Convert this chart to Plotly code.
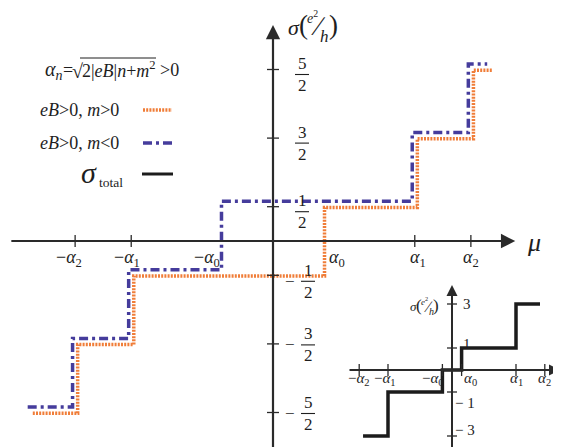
import plotly.graph_objects as go

# ---------------- data ----------------
# main panel: chemical potential thresholds alpha_0, alpha_1, alpha_2
alpha_main = [0.96, 2.78, 3.88]
mu_span = [-4.76, 4.25]                      # mu range covered by the curves
levels_half = [-2.5, -1.5, -0.5, 0.5, 1.5, 2.5]  # sigma in units of e^2/h
y_ticks_main = [2.5, 1.5, 0.5, -0.5, -1.5, -2.5]
y_tick_num = ["5", "3", "1", "1", "3", "5"]
y_tick_den = ["2", "2", "2", "2", "2", "2"]
x_tick_names = ["−<i>α</i><sub>2</sub>", "−<i>α</i><sub>1</sub>", "−<i>α</i><sub>0</sub>",
                "<i>α</i><sub>0</sub>", "<i>α</i><sub>1</sub>", "<i>α</i><sub>2</sub>"]

# inset: total conductance
alpha_inset = [0.3, 2.0, 2.9]
inset_span = [-2.78, 2.75]
levels_total = [-3, -1, 0, 1, 3]
inset_y_ticks = [3, 1, -1, -3]
inset_y_names = ["3", "1", "− 1", "− 3"]

# ---------------- geometry / style ----------------
W, H = 561, 447
OFF = 8                      # page body margin
FW, FH = W - OFF, H - OFF    # figure size
XR = [-(273 - OFF) / 51, (W - 273) / 51]
YR = [(241 - H) / 68.6, (241 - OFF) / 68.6]
X2R = [-(452 - OFF) / 32, (W - 452) / 32]
Y2R = [(370 - H) / 22, (370 - OFF) / 22]
FONT = "Liberation Serif"
AX = "#2a2a2a"
TXT = "#1e1e1e"
ORANGE = "#F07D38"
BLUE = "#453C9C"


def px(x):
    return (x - OFF) / FW


def py(y):
    return 1 - (y - OFF) / FH


def ptext(x, y, text, size, **kw):
    d = dict(x=px(x), y=py(y), xref="paper", yref="paper", text=text, showarrow=False,
             xanchor="center", yanchor="middle", font=dict(family=FONT, size=size, color=TXT))
    d.update(kw)
    return d


a0, a1, a2 = alpha_main
edges_mpos = [-a2, -a1, a0, a1, a2]
edges_mneg = [-a2, -a1, -a0, a1, a2]


def steps(edges, levels, span):
    xs = [span[0]] + list(edges) + [span[1]]
    ys = list(levels) + [levels[-1]]
    return xs, ys


fig = go.Figure()

xo, yo = steps(edges_mpos, levels_half, mu_span)
fig.add_trace(go.Scatter(x=[v + 0.05 for v in xo], y=[v - 0.01 for v in yo], mode="lines",
                         line=dict(shape="hv", color=ORANGE, width=3.5, dash="2px,1.2px"),
                         hoverinfo="skip"))
xb, yb = steps(edges_mneg, levels_half, mu_span)
fig.add_trace(go.Scatter(x=[v - 0.05 for v in xb], y=[v + 0.08 for v in yb], mode="lines",
                         line=dict(shape="hv", color=BLUE, width=3.5, dash="9px,4px,3px,4px"),
                         hoverinfo="skip"))

b0, b1, b2 = alpha_inset
edges_tot = [-b1, -b0, b0, b1]
xt, yt = steps(edges_tot, levels_total, inset_span)
fig.add_trace(go.Scatter(x=xt, y=yt, mode="lines", xaxis="x2", yaxis="y2",
                         line=dict(shape="hv", color="#1c1c1c", width=3.5),
                         hoverinfo="skip"))

ann = []
shapes = []

# ---- main axes with arrows ----
ann.append(dict(x=4.75, y=0, ax=-5.16, ay=0, xref="x", yref="y", axref="x", ayref="y",
                text="", showarrow=True, arrowhead=2, arrowsize=1.3, arrowwidth=2.2,
                arrowcolor=AX, standoff=0))
ann.append(dict(x=0, y=3.15, ax=0, ay=-3.1, xref="x", yref="y", axref="x", ayref="y",
                text="", showarrow=True, arrowhead=2, arrowsize=1.3, arrowwidth=2.2,
                arrowcolor=AX, standoff=0))

# x ticks main
x_tick_vals = [-a2, -a1, -a0, a0, a1, a2]
x_label_shift = [-6, -4, -17, 15, 3, 0]
for v, name, sh in zip(x_tick_vals, x_tick_names, x_label_shift):
    if abs(v) > 1.5:
        shapes.append(dict(type="line", xref="x", yref="y", x0=v, x1=v, ysizemode="pixel",
                           yanchor=0, y0=-6, y1=6, line=dict(color=AX, width=1.3)))
    ann.append(dict(x=v, y=0, xref="x", yref="y", text=name, showarrow=False,
                    xshift=sh, yshift=-17, font=dict(family=FONT, size=18, color=TXT)))

# y ticks main with stacked fractions
bar_shift = {2.5: -5, 1.5: -5, 0.5: -5, -0.5: -6, -1.5: -1, -2.5: -1}
for v, n, d in zip(y_ticks_main, y_tick_num, y_tick_den):
    shapes.append(dict(type="line", xref="x", yref="y", y0=v, y1=v, xsizemode="pixel",
                       xanchor=0, x0=-6, x1=6, line=dict(color=AX, width=1.3)))
    cx = 29 if v > 0 else 35
    b = bar_shift[v]
    ann.append(dict(x=0, y=v, xref="x", yref="y", text=n, showarrow=False,
                    xshift=cx, yshift=b + 11, font=dict(family=FONT, size=17, color=TXT)))
    ann.append(dict(x=0, y=v, xref="x", yref="y", text=d, showarrow=False,
                    xshift=cx, yshift=b - 11, font=dict(family=FONT, size=17, color=TXT)))
    shapes.append(dict(type="line", xref="x", yref="y", xsizemode="pixel", xanchor=0,
                       x0=cx - 7, x1=cx + 7, ysizemode="pixel", yanchor=v, y0=b, y1=b,
                       line=dict(color=TXT, width=1.1)))
    if v < 0:
        ann.append(dict(x=0, y=v, xref="x", yref="y", text="−", showarrow=False,
                        xshift=17, yshift=b, font=dict(family=FONT, size=17, color=TXT)))

# axis titles main
ann.append(ptext(534, 242, "<i>μ</i>", 26))
ann.append(ptext(294, 28, "<i>σ</i>", 22))
ann.append(ptext(303, 25, "(", 27))
ann.append(ptext(312, 17, "<i>e</i><sup>2</sup>", 14))
ann.append(ptext(318, 26, "∕", 27))
ann.append(ptext(324, 36, "<i>h</i>", 17))
ann.append(ptext(333, 25, ")", 27))

# legend block
ann.append(ptext(43, 71, "<i>α</i><sub><i>n</i></sub>", 20, xanchor="left"))
ann.append(ptext(68, 70, "=", 18))
ann.append(ptext(77, 71, "√", 20))
ann.append(ptext(80, 70, "2|<i>eB</i>|<i>n</i>+<i>m</i><sup>2</sup>", 18, xanchor="left"))
ann.append(ptext(158, 70, "&gt;0", 18, xanchor="left"))
shapes.append(dict(type="line", xref="paper", yref="paper", x0=px(80), x1=px(156),
                   y0=py(58), y1=py(58), line=dict(color=TXT, width=1)))
ann.append(ptext(121, 110, "<i>eB</i>&gt;0, <i>m</i>&gt;0", 18, xanchor="right"))
ann.append(ptext(121, 143, "<i>eB</i>&gt;0, <i>m</i>&lt;0", 18, xanchor="right"))
ann.append(ptext(99, 172, "<i>σ</i>", 30, xanchor="right"))
ann.append(ptext(97, 182, "total", 13.5, xanchor="left"))
shapes.append(dict(type="line", xref="paper", yref="paper", x0=px(143), x1=px(172),
                   y0=py(110), y1=py(110), line=dict(color=ORANGE, width=3.5, dash="2px,1.2px")))
shapes.append(dict(type="line", xref="paper", yref="paper", x0=px(143), x1=px(173),
                   y0=py(143), y1=py(143), line=dict(color=BLUE, width=3.5, dash="9px,4px,3px,4px")))
shapes.append(dict(type="line", xref="paper", yref="paper", x0=px(142), x1=px(173),
                   y0=py(174), y1=py(174), line=dict(color="#1c1c1c", width=3)))

# ---- inset axes ----
ann.append(dict(x=3.375, y=0, ax=-3.25, ay=0, xref="x2", yref="y2", axref="x2", ayref="y2",
                text="", showarrow=True, arrowhead=2, arrowsize=1.1, arrowwidth=2,
                arrowcolor=AX, standoff=0))
ann.append(dict(x=0, y=3.86, ax=0, ay=-3.6, xref="x2", yref="y2", axref="x2", ayref="y2",
                text="", showarrow=True, arrowhead=2, arrowsize=1.1, arrowwidth=2,
                arrowcolor=AX, standoff=0))
inset_x_vals = [-b2, -b1, -b0, b0, b1, b2]
inset_x_shift = [0, -3, -9, 9, 0, 0]
for v, name, sh in zip(inset_x_vals, x_tick_names, inset_x_shift):
    shapes.append(dict(type="line", xref="x2", yref="y2", x0=v, x1=v, ysizemode="pixel",
                       yanchor=0, y0=-6, y1=6, line=dict(color=AX, width=1.3)))
    ann.append(dict(x=v, y=0, xref="x2", yref="y2", text=name, showarrow=False,
                    xshift=sh, yshift=-9, font=dict(family=FONT, size=15, color=TXT)))
inset_y_shift = [0, 4, -11, 6]
for v, name, sh in zip(inset_y_ticks, inset_y_names, inset_y_shift):
    shapes.append(dict(type="line", xref="x2", yref="y2", y0=v, y1=v, xsizemode="pixel",
                       xanchor=0, x0=-5, x1=5, line=dict(color=AX, width=1.3)))
    ann.append(dict(x=0, y=v, xref="x2", yref="y2", text=name, showarrow=False,
                    xshift=15 if v > 0 else 13, yshift=sh,
                    font=dict(family=FONT, size=15, color=TXT)))
ann.append(ptext(413, 306, "<i>σ</i>", 13))
ann.append(ptext(419, 305, "(", 17))
ann.append(ptext(424, 301, "<i>e</i><sup>2</sup>", 9))
ann.append(ptext(428, 306, "∕", 16))
ann.append(ptext(431, 311, "<i>h</i>", 10))
ann.append(ptext(436, 305, ")", 17))

fig.update_layout(
    width=FW, height=FH, margin=dict(l=0, r=0, t=0, b=0, pad=0),
    paper_bgcolor="white", plot_bgcolor="white", showlegend=False,
    xaxis=dict(range=XR, visible=False, fixedrange=True),
    yaxis=dict(range=YR, visible=False, fixedrange=True),
    xaxis2=dict(range=X2R, visible=False, overlaying="x", anchor="y2"),
    yaxis2=dict(range=Y2R, visible=False, overlaying="y", anchor="x2"),
    annotations=ann, shapes=shapes,
)
fig.write_html("out.html")
